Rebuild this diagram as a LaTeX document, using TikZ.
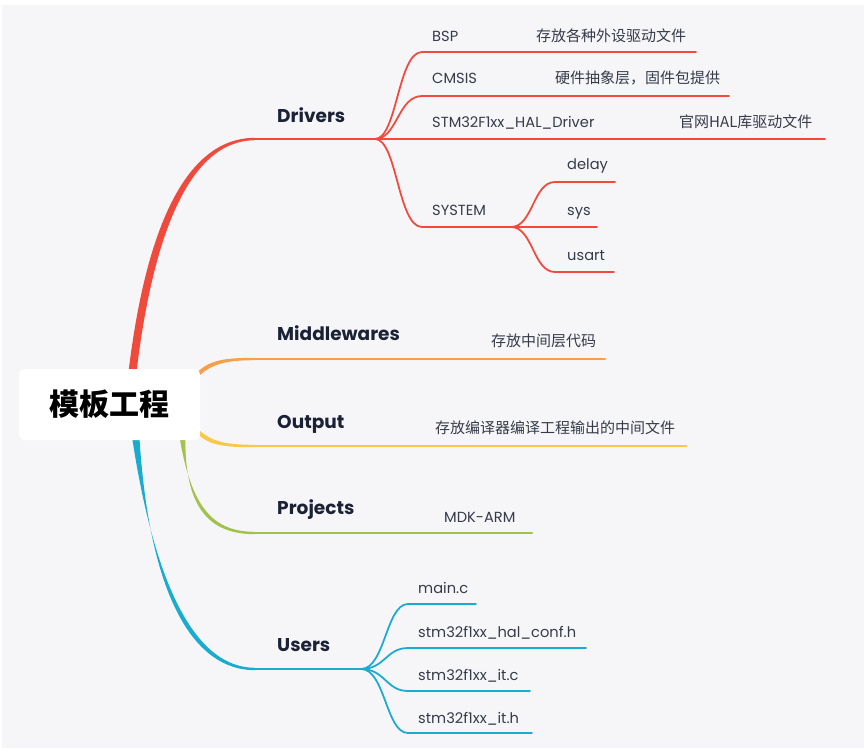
\documentclass[tikz,border=0pt]{standalone}
\usepackage{fontspec}
\setmainfont{Poppins}
\newfontfamily\cjk{Noto Sans CJK SC}
\usepackage{tikz}
\usetikzlibrary{calc}
\definecolor{bg}{HTML}{F6F6F9}
\definecolor{drvc}{HTML}{F04A3C}
\definecolor{midc}{HTML}{F6A14A}
\definecolor{outc}{HTML}{F9C846}
\definecolor{proc}{HTML}{A3C24C}
\definecolor{usrc}{HTML}{1AACCF}
\definecolor{ink}{HTML}{1B2236}
\definecolor{leafink}{HTML}{353B48}

\begin{document}
\begin{tikzpicture}[x=0.03cm, y=-0.03cm,
  topic/.style={anchor=base west, inner sep=0pt, text=ink, font=\fontsize{15.8}{18}\selectfont\bfseries},
  leaf/.style={anchor=base west, inner sep=0pt, text=leafink, font=\fontsize{12.5}{15}\selectfont},
  note/.style={anchor=base west, inner sep=0pt, text=leafink, font=\cjk\fontsize{12.8}{15}\selectfont},
  mainline/.style={line width=2pt, line cap=round},
  subline/.style={line width=1.5pt, line cap=round}]
\useasboundingbox[fill=white] (0,0) rectangle (867,748);
\fill[bg] (2,5) rectangle (864,748);

% branch start points (under the root) and junctions
\coordinate (drvS) at (131,385);
\coordinate (drvE) at (255,139);
\coordinate (drvJ) at (375,139);
\coordinate (midS) at (192,382);
\coordinate (midE) at (255,359);
\coordinate (midR) at (605,359);
\coordinate (outS) at (192,424);
\coordinate (outE) at (255,446);
\coordinate (outR) at (686,446);
\coordinate (proS) at (182,430);
\coordinate (proE) at (255,533);
\coordinate (proR) at (532,533);
\coordinate (usrS) at (135,430);
\coordinate (usrE) at (255,669);
\coordinate (usrJ) at (361,669);

% main branches, thick at the root
\fill[drvc] ($(drvS)+(-4,0)$) .. controls ($(drvS)+(14,-165)$) and ($(drvE)+(-66,-1.2)$) .. ($(drvE)+(0,-1.2)$)
  -- ($(drvE)+(0,1.2)$) .. controls ($(drvE)+(-60,1.2)$) and ($(drvS)+(22,-165)$) .. ($(drvS)+(4,0)$) -- cycle;
\draw[drvc, mainline] (drvE) -- (drvJ);
\fill[midc] ($(midS)+(0,-2.5)$) .. controls ($(midS)+(12,-22)$) and ($(midE)+(-32,-1.2)$) .. ($(midE)+(0,-1.2)$)
  -- ($(midE)+(0,1.2)$) .. controls ($(midE)+(-30,1.2)$) and ($(midS)+(14,-18)$) .. ($(midS)+(0,2.5)$) -- cycle;
\draw[midc, mainline] (midE) -- (midR);
\fill[outc] ($(outS)+(0,-2.5)$) .. controls ($(outS)+(14,18)$) and ($(outE)+(-30,-1.2)$) .. ($(outE)+(0,-1.2)$)
  -- ($(outE)+(0,1.2)$) .. controls ($(outE)+(-32,1.2)$) and ($(outS)+(12,22)$) .. ($(outS)+(0,2.5)$) -- cycle;
\draw[outc, mainline] (outE) -- (outR);
\fill[proc] ($(proS)+(-3.5,0)$) .. controls ($(proS)+(8,78)$) and ($(proE)+(-42,-1.2)$) .. ($(proE)+(0,-1.2)$)
  -- ($(proE)+(0,1.2)$) .. controls ($(proE)+(-46,1.2)$) and ($(proS)+(1,78)$) .. ($(proS)+(3.5,0)$) -- cycle;
\draw[proc, mainline] (proE) -- (proR);
\fill[usrc] ($(usrS)+(-4,0)$) .. controls ($(usrS)+(20,165)$) and ($(usrE)+(-56,-1.2)$) .. ($(usrE)+(0,-1.2)$)
  -- ($(usrE)+(0,1.2)$) .. controls ($(usrE)+(-62,1.2)$) and ($(usrS)+(13,165)$) .. ($(usrS)+(4,0)$) -- cycle;
\draw[usrc, mainline] (usrE) -- (usrJ);

% Drivers children
\coordinate (bspL) at (422,52);  \coordinate (bspR) at (696,52);
\coordinate (cmsL) at (422,96);  \coordinate (cmsR) at (729,96);
\coordinate (halR) at (825,139);
\coordinate (sysL) at (422,227); \coordinate (sysJ) at (511,227);
\coordinate (dlyL) at (555,182); \coordinate (dlyR) at (615,182);
\coordinate (sysR) at (597,227);
\coordinate (usaL) at (555,272); \coordinate (usaR) at (614,272);
\draw[drvc, subline] (drvJ) .. controls +(22,0) and +(-24,0) .. (bspL) -- (bspR);
\draw[drvc, subline] (drvJ) .. controls +(22,0) and +(-24,0) .. (cmsL) -- (cmsR);
\draw[drvc, subline] (drvJ) -- (halR);
\draw[drvc, subline] (drvJ) .. controls +(22,0) and +(-24,0) .. (sysL) -- (sysJ);
\draw[drvc, subline] (sysJ) .. controls +(22,0) and +(-22,0) .. (dlyL) -- (dlyR);
\draw[drvc, subline] (sysJ) -- (sysR);
\draw[drvc, subline] (sysJ) .. controls +(22,0) and +(-22,0) .. (usaL) -- (usaR);

% Users children
\coordinate (mainL) at (408,604); \coordinate (mainR) at (476,604);
\coordinate (confL) at (408,648); \coordinate (confR) at (586,648);
\coordinate (itcL) at (408,691);  \coordinate (itcR) at (530,691);
\coordinate (ithL) at (408,733);  \coordinate (ithR) at (532,733);
\draw[usrc, subline] (usrJ) .. controls +(24,0) and +(-22,0) .. (mainL) -- (mainR);
\draw[usrc, subline] (usrJ) .. controls +(24,0) and +(-22,0) .. (confL) -- (confR);
\draw[usrc, subline] (usrJ) .. controls +(24,0) and +(-22,0) .. (itcL) -- (itcR);
\draw[usrc, subline] (usrJ) .. controls +(24,0) and +(-22,0) .. (ithL) -- (ithR);

% root
\node[fill=white, rounded corners=5pt, minimum width=5.43cm, minimum height=2.13cm, inner sep=0pt,
  font=\cjk\fontsize{25.6}{30}\selectfont\bfseries] (root) at (109.5,404.5) {模板工程};

% labels
\node[topic] (drv) at (277,122) {Drivers};
\node[topic] (mid) at (277,340) {Middlewares};
\node[topic] (out) at (277,428) {Output};
\node[topic] (pro) at (277,514) {Projects};
\node[topic] (usr) at (277,651) {Users};

\node[leaf] (bsp) at (432,41) {BSP};
\node[note] (bspn) at (536,41) {存放各种外设驱动文件};
\node[leaf] (cms) at (432,83) {CMSIS};
\node[note] (cmsn) at (555,83) {硬件抽象层，固件包提供};
\node[leaf] (hal) at (432,127) {STM32F1xx\_HAL\_Driver};
\node[note] (haln) at (679,127) {官网HAL库驱动文件};
\node[leaf] (sys) at (432,215) {SYSTEM};
\node[leaf] (dly) at (567,169) {delay};
\node[leaf] (syss) at (567,215) {sys};
\node[leaf] (usa) at (567,260) {usart};

\node[note] (midn) at (491,346) {存放中间层代码};
\node[note] (outn) at (435,433) {存放编译器编译工程输出的中间文件};
\node[leaf] (mdk) at (444,522) {MDK-ARM};

\node[leaf] (mainc) at (418,593) {main.c};
\node[leaf] (conf) at (418,637) {stm32f1xx\_hal\_conf.h};
\node[leaf] (itc) at (418,680) {stm32f1xx\_it.c};
\node[leaf] (ith) at (418,723) {stm32f1xx\_it.h};
\end{tikzpicture}
\end{document}
